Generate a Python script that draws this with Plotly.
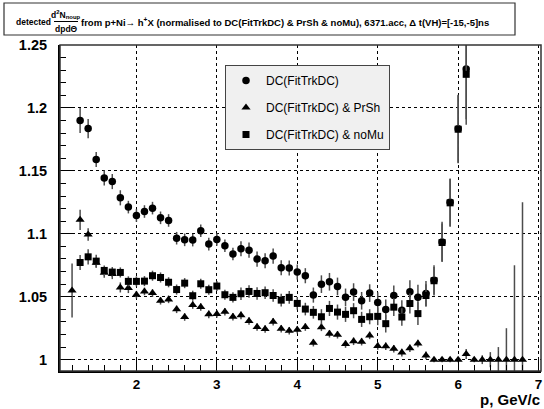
import plotly.graph_objects as go

# momentum bin centres (GeV/c)
p_dc = [1.3, 1.4, 1.5, 1.6, 1.7, 1.8, 1.9, 2.0, 2.1, 2.2, 2.3, 2.4, 2.5, 2.6, 2.7,
        2.8, 2.9, 3.0, 3.1, 3.2, 3.3, 3.4, 3.5, 3.6, 3.7, 3.8, 3.9, 4.0, 4.1, 4.2,
        4.3, 4.4, 4.5, 4.6, 4.7, 4.8, 4.9, 5.0, 5.1, 5.2, 5.3, 5.4, 5.5, 5.6, 5.7,
        5.8, 5.9, 6.0, 6.1]
p_prsh = [1.2] + p_dc + [6.2, 6.3, 6.4, 6.5, 6.6, 6.7, 6.8]

# DC(FitTrkDC)
y_dc = [1.190, 1.1836, 1.159, 1.1444, 1.1415, 1.1286, 1.1212, 1.1145, 1.1177, 1.1204,
        1.1127, 1.1106, 1.0965, 1.0952, 1.0950, 1.1024, 1.0918, 1.0955, 1.0905, 1.0839,
        1.0881, 1.0870, 1.0799, 1.0786, 1.0823, 1.0730, 1.0728, 1.0696, 1.0667, 1.0513,
        1.0600, 1.0619, 1.0582, 1.0495, 1.0537, 1.0468, 1.0529, 1.0455, 1.0399, 1.0510,
        1.0392, 1.0540, 1.0496, 1.0526, 1.0630, 1.0935, 1.1250, 1.1835, 1.2310]
e_dc = [0.010, 0.0077, 0.006, 0.006, 0.006, 0.006, 0.005, 0.005, 0.005, 0.005,
        0.005, 0.005, 0.005, 0.005, 0.005, 0.005, 0.005, 0.005, 0.005, 0.005,
        0.006, 0.006, 0.006, 0.006, 0.006, 0.006, 0.006, 0.006, 0.006, 0.006,
        0.007, 0.007, 0.007, 0.007, 0.007, 0.007, 0.007, 0.008, 0.008, 0.008,
        0.008, 0.009, 0.010, 0.010, 0.012, 0.016, 0.019, 0.027, 0.040]

# DC(FitTrkDC) & noMu
y_nomu = [1.0772, 1.0817, 1.0783, 1.0709, 1.0696, 1.0693, 1.0622, 1.0622, 1.0624, 1.0667,
          1.0653, 1.0615, 1.0557, 1.0608, 1.0508, 1.0603, 1.0556, 1.0585, 1.0516, 1.0495,
          1.0524, 1.0542, 1.0526, 1.0532, 1.0510, 1.0473, 1.0495, 1.0447, 1.0402, 1.0376,
          1.0341, 1.0407, 1.0378, 1.0360, 1.0389, 1.0320, 1.0341, 1.0344, 1.0286, 1.0417,
          1.0339, 1.0446, 1.0366, 1.0510, 1.0627, 1.0931, 1.1246, 1.1831, 1.2267]
e_nomu = [0.006, 0.006, 0.005, 0.004, 0.004, 0.004, 0.004, 0.004, 0.004, 0.004,
          0.004, 0.004, 0.004, 0.004, 0.004, 0.004, 0.004, 0.004, 0.004, 0.004,
          0.005, 0.005, 0.005, 0.005, 0.005, 0.005, 0.005, 0.005, 0.005, 0.005,
          0.006, 0.006, 0.006, 0.006, 0.006, 0.006, 0.006, 0.007, 0.007, 0.007,
          0.007, 0.008, 0.009, 0.009, 0.011, 0.015, 0.019, 0.027, 0.040]

# DC(FitTrkDC) & PrSh
y_prsh = [1.0550, 1.1111, 1.0995, 1.0770, 1.0690, 1.0680, 1.0574, 1.0569, 1.0516, 1.0542,
          1.0529, 1.0468, 1.0479, 1.0400, 1.0339, 1.0434, 1.0418, 1.0360, 1.0363, 1.0381,
          1.0341, 1.0352, 1.0307, 1.0259, 1.0243, 1.0302, 1.0246, 1.0230, 1.0238, 1.0259,
          1.0135, 1.0257, 1.0206, 1.0198, 1.0124, 1.0146, 1.0143, 1.0193, 1.0109, 1.0106,
          1.0087, 1.0056, 1.0090, 1.0129, 1.0034, 1.0000, 1.0000, 1.0000, 1.0000, 1.0045,
          1.0000, 1.0000, 1.0000, 1.0000, 1.0000, 1.0000, 1.0000]
e_prsh = [0.0215, 0.008, 0.005, 0.004, 0.004, 0.004, 0.004, 0.004, 0.003, 0.003,
          0.003, 0.003, 0.003, 0.003, 0.003, 0.003, 0.003, 0.003, 0.003, 0.003,
          0.003, 0.003, 0.003, 0.003, 0.003, 0.003, 0.003, 0.003, 0.003, 0.003,
          0.003, 0.003, 0.003, 0.003, 0.003, 0.003, 0.003, 0.003, 0.003, 0.003,
          0.003, 0.003, 0.003, 0.003, 0.003, 0.002, 0.002, 0.002, 0.002, 0.004,
          0.002, 0.0035, 0.006, 0.010, 0.025, 0.075, 0.125]

x_ticks = [2, 3, 4, 5, 6, 7]
x_tick_text = ["2", "3", "4", "5", "6", "7"]
y_ticks = [1.0, 1.05, 1.1, 1.15, 1.2, 1.25]
y_tick_text = ["1", "1.05", "1.1", "1.15", "1.2", "1.25"]

FONT = "Liberation Sans, Arial, sans-serif"
W, H = 544, 409
ML, MR, MT, MB = 60, 3, 45, 38


def px(x):
    return (x - ML) / (W - ML - MR)


def py(y):
    return (H - MB - y) / (H - MT - MB)


def err(vals):
    return dict(type="data", array=vals, visible=True, color="#4d4d4d",
                thickness=1.5, width=0)


fig = go.Figure()
fig.add_trace(go.Scatter(x=p_dc, y=y_dc, mode="markers", name="DC(FitTrkDC)",
                         legendgroup="a",
                         marker=dict(symbol="circle", size=7.5, color="black"),
                         error_y=err(e_dc)))
fig.add_trace(go.Scatter(x=p_prsh, y=y_prsh, mode="markers", name="DC(FitTrkDC) & PrSh",
                         legendgroup="b",
                         marker=dict(symbol="triangle-up", size=8, color="black"),
                         error_y=err(e_prsh)))
fig.add_trace(go.Scatter(x=p_dc, y=y_nomu, mode="markers", name="DC(FitTrkDC) & noMu",
                         legendgroup="c",
                         marker=dict(symbol="square", size=7, color="black"),
                         error_y=err(e_nomu)))

axis_common = dict(
    showgrid=True, gridcolor="black", griddash="dot", gridwidth=1,
    zeroline=False, showline=True, linecolor="black", linewidth=2,
    ticks="inside", tickcolor="black", tickwidth=1,
)

fig.update_xaxes(range=[1.05, 7.03], tickvals=x_ticks,
                 ticktext=["<b>%s</b>" % t for t in x_tick_text], ticklen=12,
                 tickfont=dict(family=FONT, size=13.5, color="black"),
                 minor=dict(ticks="inside", dtick=0.2, tick0=1.0, ticklen=6,
                            tickcolor="black", showgrid=False),
                 ticklabelstandoff=0,
                 **axis_common)
fig.update_yaxes(range=[0.991, 1.25], tickvals=y_ticks,
                 ticktext=["<b>%s</b>" % t for t in y_tick_text],
                 tickfont=dict(family=FONT, size=14.5, color="black"),
                 ticklen=12,
                 minor=dict(ticks="inside", dtick=0.01, tick0=1.0, ticklen=6,
                            tickcolor="black", showgrid=False),
                 ticklabelstandoff=8,
                 **axis_common)

shapes = [
    # frame around the plotting area
    dict(type="rect", xref="paper", yref="paper", x0=0, y0=0, x1=1, y1=1,
         line=dict(color="#333333", width=1.5)),
    # title box
    dict(type="rect", xref="paper", yref="paper", x0=px(4), x1=px(515),
         y0=py(35), y1=py(3), line=dict(color="#333333", width=1.2),
         fillcolor="white"),
    # fraction bar
    dict(type="line", xref="paper", yref="paper", x0=px(54), x1=px(78),
         y0=py(21.5), y1=py(21.5), line=dict(color="black", width=1)),
]

tf = dict(family=FONT, size=9.5, color="black")
tf_small = dict(family=FONT, size=8.5, color="black")
annotations = [
    dict(text="<b>detected</b>", x=px(53), y=py(22), xref="paper", yref="paper",
         xanchor="right", yanchor="middle", showarrow=False, font=tf_small),
    dict(text="<b>d<sup>2</sup>N<sub>noup</sub></b>", x=px(66), y=py(14),
         xref="paper", yref="paper", xanchor="center", yanchor="middle",
         showarrow=False, font=tf_small),
    dict(text="<b>dpdΘ</b>", x=px(66), y=py(29), xref="paper", yref="paper",
         xanchor="center", yanchor="middle", showarrow=False, font=tf_small),
    dict(text="<b>from p+Ni→ h<sup>+</sup>X (normalised to DC(FitTrkDC) & PrSh & noMu), "
              "6371.acc, Δ t(VH)=[-15,-5]ns</b>",
         x=px(79), y=py(22), xref="paper", yref="paper", xanchor="left",
         yanchor="middle", showarrow=False, font=tf),
    dict(text="<b>p, GeV/c</b>", x=px(542), y=py(409.5), xref="paper", yref="paper",
         xanchor="right", yanchor="bottom", showarrow=False,
         font=dict(family=FONT, size=15, color="black")),
]

fig.update_layout(
    width=W, height=H,
    margin=dict(l=ML, r=MR, t=MT, b=MB),
    paper_bgcolor="white", plot_bgcolor="white",
    shapes=shapes, annotations=annotations,
    showlegend=True,
    legend=dict(x=px(225), y=py(65), xanchor="left", yanchor="top",
                bgcolor="#f0f0f0", bordercolor="#444444", borderwidth=1,
                font=dict(family=FONT, size=12, color="black"),
                tracegroupgap=8, traceorder="grouped",
                itemsizing="trace"),
)

fig.write_html("out.html")
